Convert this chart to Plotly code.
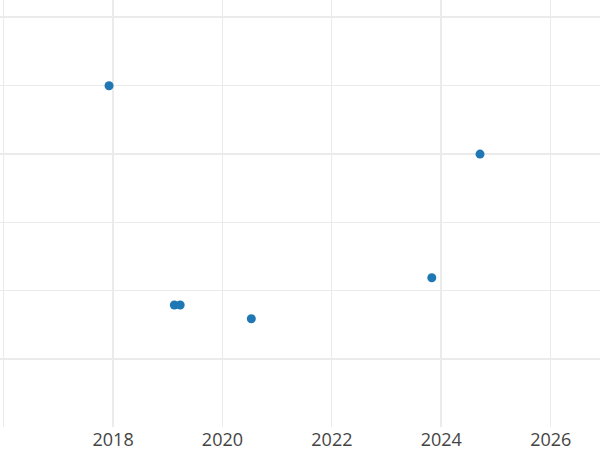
import plotly.graph_objects as go

# Data
dates = ["2017-12-05", "2019-02-14", "2019-03-25", "2020-07-12", "2023-10-30", "2024-09-16"]
values = [4.0, 0.79, 0.79, 0.59, 1.19, 3.0]

x_tick_vals = ["2016-01-01", "2018-01-01", "2020-01-01", "2022-01-01", "2024-01-01", "2026-01-01"]
x_tick_text = ["", "2018", "2020", "2022", "2024", "2026"]
x_major_vals = ["2018-01-01", "2024-01-01"]
y_grid_vals = [0, 1, 2, 3, 4, 5]
y_major_vals = [0, 3, 5]

x_range = ["2015-12-08", "2026-11-26"]
y_range = [-0.995, 5.255]

grid_color = "#ebebeb"

fig = go.Figure()
fig.add_trace(go.Scatter(
    x=dates, y=values, mode="markers",
    marker=dict(color="#1f77b4", size=9),
    showlegend=False, hoverinfo="x+y",
))
# empty trace to activate overlay axes for thicker grid lines
fig.add_trace(go.Scatter(x=[], y=[], xaxis="x2", yaxis="y2", showlegend=False))

fig.update_layout(
    width=600, height=450,
    margin=dict(l=0, r=0, t=0, b=23, pad=0),
    paper_bgcolor="white", plot_bgcolor="white",
    font=dict(family="Open Sans", size=18, color="#444444"),
    xaxis=dict(
        type="date", range=x_range, automargin=False,
        tickmode="array", tickvals=x_tick_vals, ticktext=x_tick_text,
        showgrid=True, gridcolor=grid_color, gridwidth=1,
        zeroline=False, showline=False, ticks="", ticklabelstandoff=0,
    ),
    yaxis=dict(
        range=y_range, tickmode="array", tickvals=y_grid_vals, automargin=False,
        showticklabels=False,
        showgrid=True, gridcolor=grid_color, gridwidth=1,
        zeroline=False, showline=False, ticks="",
    ),
    xaxis2=dict(
        type="date", range=x_range, overlaying="x", automargin=False,
        tickmode="array", tickvals=x_major_vals, showticklabels=False,
        showgrid=True, gridcolor=grid_color, gridwidth=2,
        zeroline=False, showline=False, ticks="",
    ),
    yaxis2=dict(
        range=y_range, overlaying="y", automargin=False,
        tickmode="array", tickvals=y_major_vals, showticklabels=False,
        showgrid=True, gridcolor=grid_color, gridwidth=2,
        zeroline=False, showline=False, ticks="",
    ),
)

fig.write_html(
    "out.html",
    config={"displayModeBar": False},
    post_script="document.body.style.margin='0';",
)
